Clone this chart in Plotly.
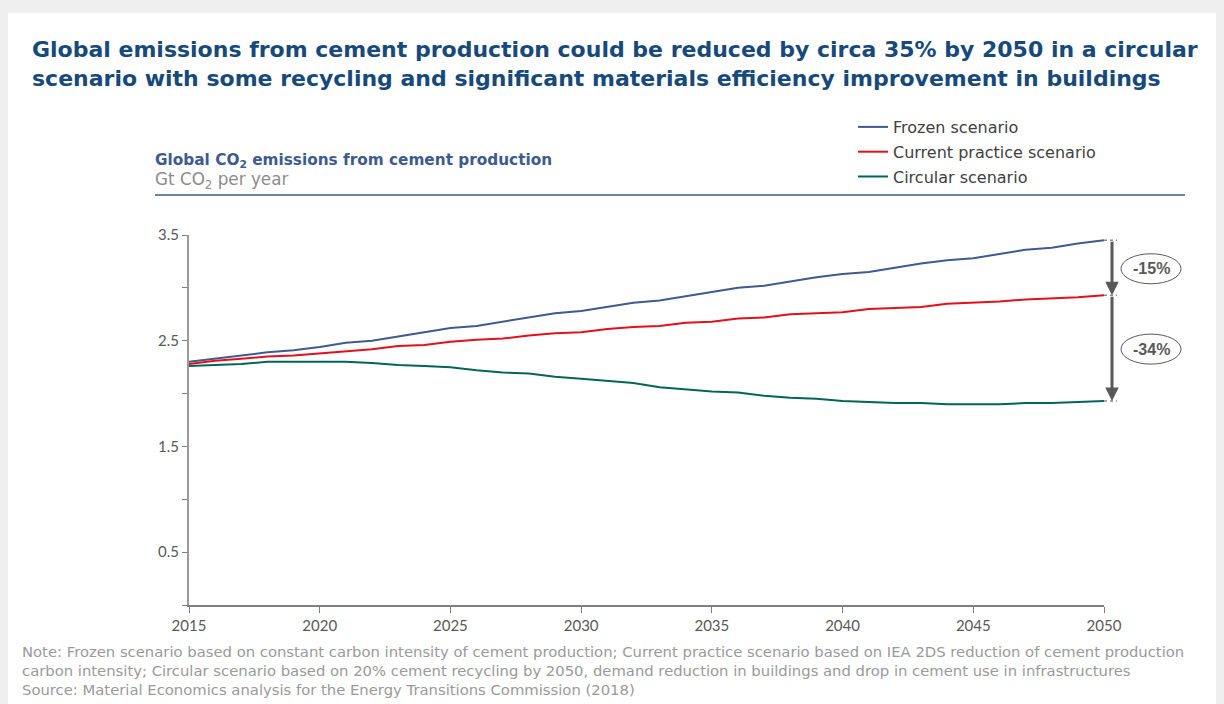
import plotly.graph_objects as go

years = list(range(2015, 2051))

frozen = [2.30, 2.33, 2.36, 2.39, 2.41, 2.44, 2.48, 2.50, 2.54, 2.58,
          2.62, 2.64, 2.68, 2.72, 2.76, 2.78, 2.82, 2.86, 2.88, 2.92,
          2.96, 3.00, 3.02, 3.06, 3.10, 3.13, 3.15, 3.19, 3.23, 3.26,
          3.28, 3.32, 3.36, 3.38, 3.42, 3.45]

current = [2.28, 2.31, 2.33, 2.35, 2.36, 2.38, 2.40, 2.42, 2.45, 2.46,
           2.49, 2.51, 2.52, 2.55, 2.57, 2.58, 2.61, 2.63, 2.64, 2.67,
           2.68, 2.71, 2.72, 2.75, 2.76, 2.77, 2.80, 2.81, 2.82, 2.85,
           2.86, 2.87, 2.89, 2.90, 2.91, 2.93]

circular = [2.26, 2.27, 2.28, 2.30, 2.30, 2.30, 2.30, 2.29, 2.27, 2.26,
            2.25, 2.22, 2.20, 2.19, 2.16, 2.14, 2.12, 2.10, 2.06, 2.04,
            2.02, 2.01, 1.98, 1.96, 1.95, 1.93, 1.92, 1.91, 1.91, 1.90,
            1.90, 1.90, 1.91, 1.91, 1.92, 1.93]

series_names = ["Frozen scenario", "Current practice scenario", "Circular scenario"]
series_colors = ["#3E5A8E", "#E3101B", "#00665A"]

x_tickvals = [2015, 2020, 2025, 2030, 2035, 2040, 2045, 2050]
y_range = [0, 3.5]
y_tickvals = [0.5, 1.5, 2.5, 3.5]
y_minor_step = 0.5

title_text = ("Global emissions from cement production could be reduced by circa 35% by 2050 in a circular"
              "<br>scenario with some recycling and significant materials efficiency improvement in buildings")
subtitle_text = "Global CO<sub>2</sub> emissions from cement production"
unit_text = "Gt CO<sub>2</sub> per year"
note_text = ("Note: Frozen scenario based on constant carbon intensity of cement production; Current practice scenario based on IEA 2DS reduction of cement production"
             "<br>carbon intensity; Circular scenario based on 20% cement recycling by 2050, demand reduction in buildings and drop in cement use in infrastructures"
             "<br>Source: Material Economics analysis for the Energy Transitions Commission (2018)")

FONT = "DejaVu Sans, sans-serif"
BOLD = "DejaVu Sans, sans-serif"
OFF = 8  # page body margin
W, H = 1224, 704
# plot area in screen pixels
SL, SR, ST, SB = 189, 1104, 235, 605
L, T = SL - OFF, ST - OFF
R, B = W - (SR - OFF), H - (SB - OFF)
PW, PH = W - L - R, H - T - B


def px(sx):
    return (sx - OFF - L) / PW


def py(sy):
    return (H - B - (sy - OFF)) / PH


def ypaper(v):
    return (v - y_range[0]) / (y_range[1] - y_range[0])


fig = go.Figure()
for name, vals, col in zip(series_names, [frozen, current, circular], series_colors):
    fig.add_trace(go.Scatter(x=years, y=vals, mode="lines", name=name, legendgroup=name,
                             line=dict(color=col, width=2), hoverinfo="skip"))

shapes = []
# card background (grey strip at the top acts as the shadow)
shapes.append(dict(type="rect", xref="paper", yref="paper", x0=px(0), x1=px(1240),
                   y0=py(720), y1=py(13), fillcolor="white", line=dict(width=0), layer="below"))
# rule below subtitle
shapes.append(dict(type="line", xref="paper", yref="paper", x0=px(155), x1=px(1185),
                   y0=py(195), y1=py(195), line=dict(color="#3E5A8E", width=1.5)))

annotations = []
annotations.append(dict(text="<b>" + title_text + "</b>", xref="paper", yref="paper", x=px(30), y=py(35),
                        xanchor="left", yanchor="top", align="left", showarrow=False,
                        font=dict(family=BOLD, size=22, color="#17497A")))
annotations.append(dict(text="<b>" + subtitle_text + "</b>", xref="paper", yref="paper", x=px(153), y=py(161),
                        xanchor="left", yanchor="middle", showarrow=False,
                        font=dict(family=BOLD, size=15.3, color="#3E5A8E")))
annotations.append(dict(text=unit_text, xref="paper", yref="paper", x=px(153), y=py(181),
                        xanchor="left", yanchor="middle", showarrow=False,
                        font=dict(family=FONT, size=16.8, color="#8C8C8C")))
annotations.append(dict(text=note_text, xref="paper", yref="paper", x=px(20), y=py(641),
                        xanchor="left", yanchor="top", align="left", showarrow=False,
                        font=dict(family=FONT, size=14.8, color="#9A9A9A")))

# difference arrows at the end of series
ends = [frozen[-1], current[-1], circular[-1]]
last_year = years[-1]
for top, bot in [(ends[0], ends[1]), (ends[1], ends[2])]:
    annotations.append(dict(text="", x=last_year, y=bot, ax=last_year, ay=top, xref="x", yref="y",
                            axref="x", ayref="y", showarrow=True, arrowhead=2, arrowsize=0.9,
                            arrowwidth=3, arrowcolor="#595959", xshift=8, standoff=0, startstandoff=0))
    mid = (top + bot) / 2
    pct = round((bot / top - 1) * 100)
    annotations.append(dict(text=f"<b>{pct}%</b>", x=last_year, y=mid, xref="x", yref="y",
                            xshift=47, yshift=-1, showarrow=False,
                            font=dict(family="Liberation Sans, Arial, sans-serif", size=16, color="#595959")))
    shapes.append(dict(type="circle", xref="paper", yref="paper", xsizemode="pixel", ysizemode="pixel",
                       xanchor=1, yanchor=ypaper(mid), x0=17, x1=77, y0=-16, y1=14,
                       line=dict(color="#595959", width=1)))
for v in ends:
    shapes.append(dict(type="line", xref="paper", yref="paper", xsizemode="pixel", xanchor=1,
                       x0=0, x1=13, y0=ypaper(v), y1=ypaper(v),
                       line=dict(color="#8C8C8C", width=1.5, dash="dot")))

fig.update_layout(
    width=W, height=H,
    margin=dict(l=L, r=R, t=T, b=B, autoexpand=False),
    paper_bgcolor="#EFEFEF", plot_bgcolor="rgba(0,0,0,0)",
    font=dict(family=FONT, size=14, color="#595959"),
    showlegend=True,
    legend=dict(x=px(853), y=py(110), xanchor="left", yanchor="top", traceorder="grouped",
                bgcolor="rgba(0,0,0,0)", font=dict(family=FONT, size=16, color="#404040"),
                itemwidth=30, tracegroupgap=1),
    xaxis=dict(range=[2015, 2050], tickvals=x_tickvals, showgrid=False, zeroline=False,
               showline=True, linecolor="#7F7F7F", linewidth=1.5, ticks="outside", ticklen=6,
               tickcolor="#7F7F7F", tickfont=dict(family="Lato, sans-serif", size=15, color="#595959"),
               fixedrange=True),
    yaxis=dict(range=y_range, tickvals=y_tickvals, showgrid=False,
               zeroline=False, showline=True, linecolor="#9A9A9A", linewidth=2, ticks="outside",
               ticklen=5, tickcolor="#7F7F7F", tickfont=dict(family="Lato, sans-serif", size=15, color="#595959"),
               minor=dict(tick0=y_range[0], dtick=y_minor_step, ticks="outside", ticklen=5,
                          tickcolor="#7F7F7F", showgrid=False),
               fixedrange=True),
    shapes=shapes,
    annotations=annotations,
)

fig.write_html("out.html", post_script="document.body.style.background='#EFEFEF';")
